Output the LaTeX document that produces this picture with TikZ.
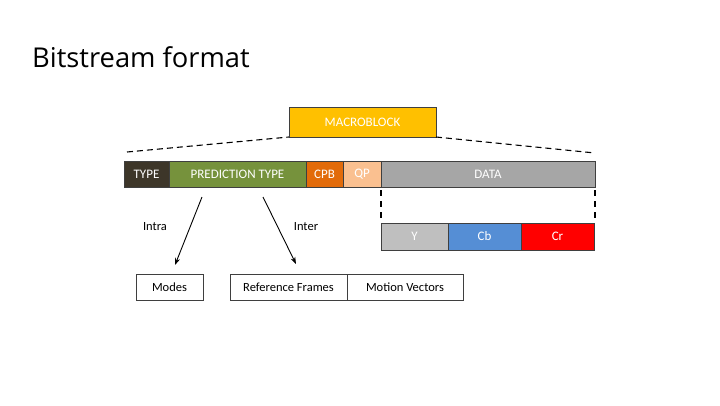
\documentclass[tikz,border=0pt]{standalone}
\usepackage{fontspec}
\setmainfont{Carlito}
\newfontfamily\titlefont{Open Sans}
\usetikzlibrary{arrows.meta}
\definecolor{ctype}{HTML}{3D3629}
\definecolor{cpred}{HTML}{76923C}
\definecolor{ccpb}{HTML}{E26B0A}
\definecolor{cqp}{HTML}{FAC090}
\definecolor{cdata}{HTML}{A6A6A6}
\definecolor{cmacro}{HTML}{FFC000}
\definecolor{cy}{HTML}{BFBFBF}
\definecolor{ccb}{HTML}{558ED5}
\definecolor{ccr}{HTML}{FF0000}
\definecolor{cedge}{HTML}{3F3F3F}
\begin{document}
\begin{tikzpicture}[x=1pt,y=-1pt,
  field/.style={draw=cedge,line width=0.9pt},
  ftext/.style={text=white,font=\fontsize{13}{14}\selectfont,inner sep=0pt},
  plain/.style={draw=cedge,line width=0.9pt,fill=white},
  guide/.style={draw=black,line width=1.1pt,dash pattern=on 6pt off 4pt},
  vguide/.style={draw=black,line width=1.1pt,dash pattern=on 6pt off 5pt},
  pointer/.style={draw=black,line width=0.9pt,-{Stealth[length=7pt,width=5pt]}},
  lbl/.style={font=\fontsize{12.5}{13}\selectfont,inner sep=0pt}]
\path[use as bounding box] (0,0) rectangle (720,405);
\fill[white] (0,0) rectangle (720,405);
\node[anchor=base west,inner sep=0pt,font=\titlefont\fontsize{27.3}{30}\selectfont] (title) at (32,67) {Bitstream format};

% macroblock
\path[field,fill=cmacro] (289,107) rectangle (436,137);
\node[ftext] (mb) at (362.5,122) {MACROBLOCK};
\coordinate (mbl) at (289,137);
\coordinate (mbr) at (436,137);

% row of fields
\path[field,fill=ctype] (124,161) rectangle (169,187);
\node[ftext] (type) at (146.5,174) {TYPE};
\path[field,fill=cpred] (169,161) rectangle (306,187);
\node[ftext] (pred) at (237.5,174) {PREDICTION TYPE};
\path[field,fill=ccpb] (306,161) rectangle (343,187);
\node[ftext] (cpb) at (324.5,174) {CPB};
\path[field,fill=cqp] (343,161) rectangle (381,187);
\node[ftext] (qp) at (362,174) {QP};
\path[field,fill=cdata] (381,161) rectangle (595,187);
\node[ftext] (data) at (488,174) {DATA};

\coordinate (rowl) at (127,152);
\coordinate (rowr) at (595,153);
\draw[guide] (rowl) -- (mbl);
\draw[guide] (mbr) -- (rowr);

% data expansion
\coordinate (dl1) at (381,190);
\coordinate (dl2) at (381,222);
\coordinate (dr1) at (595,190);
\coordinate (dr2) at (595,222);
\draw[vguide] (dl1) -- (dl2);
\draw[vguide] (dr1) -- (dr2);

\path[field,fill=cy] (381,223) rectangle (448,250);
\node[ftext] (y) at (414.5,236.5) {Y};
\path[field,fill=ccb] (448,223) rectangle (521,250);
\node[ftext] (cb) at (484.5,236.5) {Cb};
\path[field,fill=ccr] (521,223) rectangle (594,250);
\node[ftext] (cr) at (557.5,236.5) {Cr};

% lower boxes
\path[plain] (136,274) rectangle (203,300);
\node[lbl] (modes) at (169.5,287) {Modes};
\path[plain] (230,274) rectangle (347,300);
\node[lbl] (ref) at (288.5,287) {Reference Frames};
\path[plain] (347,274) rectangle (463,300);
\node[lbl] (mv) at (405,287) {Motion Vectors};

% arrows
\coordinate (a1s) at (202,197);
\coordinate (a1e) at (175,265);
\coordinate (a2s) at (263,197);
\coordinate (a2e) at (296,264);
\draw[pointer] (a1s) -- (a1e);
\draw[pointer] (a2s) -- (a2e);
\node[lbl] (intra) at (155,227) {Intra};
\node[lbl] (inter) at (306,227) {Inter};
\end{tikzpicture}
\end{document}
